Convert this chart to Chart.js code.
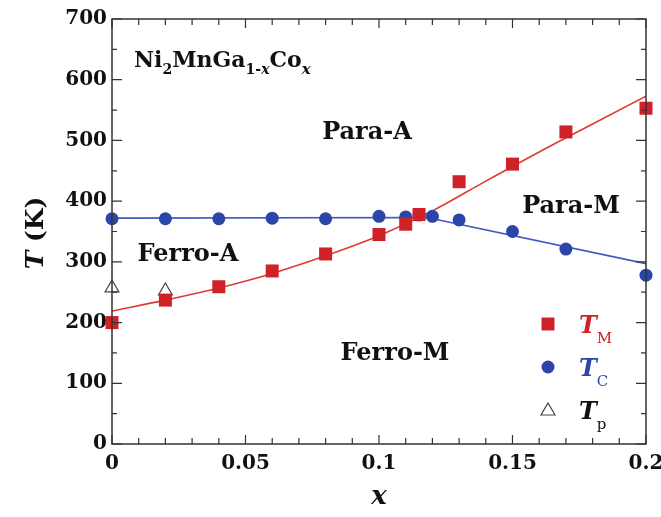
<!DOCTYPE html>
<html>
<head>
<meta charset="utf-8">
<script src="https://cdn.jsdelivr.net/npm/chart.js@4/dist/chart.umd.min.js"></script>
<style>
  html, body { margin: 0; padding: 0; background: #fff; }
  #wrap { width: 661px; height: 517px; }
</style>
</head>
<body>
<div id="wrap"><canvas id="phaseChart"></canvas></div>
<script>
// Ni2MnGa(1-x)Co(x) phase diagram
const xTM = [0, 0.02, 0.04, 0.06, 0.08, 0.10, 0.11, 0.115, 0.13, 0.15, 0.17, 0.20];
const yTM = [200, 237, 259, 285, 313, 345, 362, 378, 432, 461, 514, 553];

const xTC = [0, 0.02, 0.04, 0.06, 0.08, 0.10, 0.11, 0.115, 0.12, 0.13, 0.15, 0.17, 0.20];
const yTC = [371, 371, 371, 372, 371, 375, 374, 377, 375, 369, 350, 321, 278];

const xTp = [0, 0.02];
const yTp = [257, 252];

// guide lines through the data
const xFitM = [0, 0.02, 0.04, 0.06, 0.08, 0.10, 0.12, 0.14, 0.16, 0.18, 0.20];
const yFitM = [219, 237, 257, 281, 310, 343, 384, 433, 481, 527, 573];
const xFitC = [0, 0.118, 0.20];
const yFitC = [372, 373, 297];

const xTicks = [0, 0.05, 0.1, 0.15, 0.2];
const yTicks = [0, 100, 200, 300, 400, 500, 600, 700];

const RED = '#cf2128';
const BLUE = '#2c45a8';
const SERIF = "'DejaVu Serif', serif";

function pts(xs, ys) {
    return xs.map((x, i) => ({ x: x, y: ys[i] }));
}

// draws the frame, inward ticks, region labels and legend
const decorPlugin = {
    id: 'decor',
    afterDraw(chart) {
        const ctx = chart.ctx;
        const a = chart.chartArea;
        const xs = chart.scales.x;
        const ys = chart.scales.y;
        ctx.save();
        ctx.strokeStyle = '#333';
        ctx.lineWidth = 1.5;
        ctx.strokeRect(a.left, a.top, a.right - a.left, a.bottom - a.top);

        ctx.lineWidth = 1.2;
        ctx.beginPath();
        for (let i = 0; i <= 20; i++) {
            const px = xs.getPixelForValue(i / 100);
            const len = i % 5 === 0 ? 9 : 6;
            ctx.moveTo(px, a.bottom); ctx.lineTo(px, a.bottom - len);
            ctx.moveTo(px, a.top); ctx.lineTo(px, a.top + len);
        }
        for (let v = 0; v <= 700; v += 50) {
            const py = ys.getPixelForValue(v);
            const len = v % 100 === 0 ? 10 : 5;
            ctx.moveTo(a.left, py); ctx.lineTo(a.left + len, py);
            ctx.moveTo(a.right, py); ctx.lineTo(a.right - len, py);
        }
        ctx.stroke();

        // y axis title
        ctx.fillStyle = '#111';
        ctx.save();
        ctx.translate(36, 233);
        ctx.rotate(-Math.PI / 2);
        ctx.textBaseline = 'middle';
        ctx.font = 'italic bold 25px ' + SERIF;
        const wT = ctx.measureText('T').width;
        ctx.font = 'bold 25px ' + SERIF;
        const wK = ctx.measureText(' (K)').width;
        let sx = -(wT + wK) / 2;
        ctx.font = 'italic bold 25px ' + SERIF;
        ctx.textAlign = 'left';
        ctx.fillText('T', sx, 0);
        ctx.font = 'bold 25px ' + SERIF;
        ctx.fillText(' (K)', sx + wT, 0);
        ctx.restore();

        // formula with subscripts
        ctx.textBaseline = 'alphabetic';
        ctx.textAlign = 'left';
        const parts = [
            ['Ni', 0, 'bold 22px '], ['2', 7, 'bold 14px '], ['MnGa', 0, 'bold 22px '],
            ['1-', 7, 'bold 14px '], ['x', 7, 'italic bold 14px '], ['Co', 0, 'bold 22px '],
            ['x', 7, 'italic bold 15px ']
        ];
        let cx = 134;
        parts.forEach(p => {
            ctx.font = p[2] + SERIF;
            ctx.fillText(p[0], cx, 67 + p[1]);
            cx += ctx.measureText(p[0]).width;
        });

        // phase regions
        ctx.font = 'bold 24px ' + SERIF;
        ctx.textAlign = 'center';
        ctx.fillText('Para-A', 367, 139);
        ctx.fillText('Para-M', 571, 213);
        ctx.fillText('Ferro-A', 188, 261);
        ctx.fillText('Ferro-M', 395, 360);

        // legend
        const rows = [
            { sym: 'rect', color: RED, sub: 'M', y: 324 },
            { sym: 'circle', color: BLUE, sub: 'C', y: 367 },
            { sym: 'triangle', color: '#111', sub: 'p', y: 410 }
        ];
        rows.forEach(r => {
            ctx.beginPath();
            if (r.sym === 'rect') {
                ctx.fillStyle = RED;
                ctx.fillRect(548 - 6.5, r.y - 6.5, 13, 13);
            } else if (r.sym === 'circle') {
                ctx.fillStyle = BLUE;
                ctx.arc(548, r.y, 6.5, 0, Math.PI * 2);
                ctx.fill();
            } else {
                ctx.strokeStyle = '#444';
                ctx.lineWidth = 1.2;
                ctx.fillStyle = '#fff';
                ctx.moveTo(548, r.y - 7);
                ctx.lineTo(555, r.y + 5);
                ctx.lineTo(541, r.y + 5);
                ctx.closePath();
                ctx.fill();
                ctx.stroke();
            }
            ctx.fillStyle = r.color;
            ctx.textAlign = 'left';
            ctx.font = 'italic bold 24px ' + SERIF;
            ctx.fillText('T', 579, r.y + 9);
            const w = ctx.measureText('T').width;
            ctx.font = '15px ' + SERIF;
            ctx.fillText(r.sub, 579 + w, r.y + 19);
        });
        ctx.restore();
    }
};

function initChart() {
    const ctx = document.getElementById('phaseChart');
    Chart.defaults.font.family = SERIF;
    Chart.defaults.color = '#111';

    new Chart(ctx, {
        type: 'scatter',
        data: {
            datasets: [
                {
                    label: 'TM',
                    data: pts(xTM, yTM),
                    pointStyle: 'rect',
                    pointRadius: 9.2,
                    pointHoverRadius: 9.2,
                    backgroundColor: RED,
                    borderColor: RED,
                    borderWidth: 0,
                    clip: false
                },
                {
                    label: 'TC',
                    data: pts(xTC, yTC),
                    pointStyle: 'circle',
                    pointRadius: 6.5,
                    backgroundColor: BLUE,
                    borderColor: BLUE,
                    borderWidth: 0,
                    clip: false
                },
                {
                    label: 'Tp',
                    data: pts(xTp, yTp),
                    pointStyle: 'triangle',
                    pointRadius: 8,
                    backgroundColor: '#fff',
                    borderColor: '#444',
                    borderWidth: 1.2,
                    clip: false
                },
                {
                    label: 'fitM',
                    data: pts(xFitM, yFitM),
                    showLine: true,
                    pointRadius: 0,
                    borderColor: '#e03a32',
                    borderWidth: 1.6,
                    tension: 0.3,
                    cubicInterpolationMode: 'monotone'
                },
                {
                    label: 'fitC',
                    data: pts(xFitC, yFitC),
                    showLine: true,
                    pointRadius: 0,
                    borderColor: '#4058c0',
                    borderWidth: 1.6,
                    tension: 0
                }
            ]
        },
        options: {
            responsive: true,
            maintainAspectRatio: false,
            animation: false,
            layout: { padding: { left: 0, right: 15, top: 19, bottom: 0 } },
            plugins: {
                legend: { display: false },
                tooltip: { enabled: false }
            },
            scales: {
                x: {
                    type: 'linear',
                    min: 0,
                    max: 0.2,
                    afterBuildTicks: s => { s.ticks = xTicks.map(v => ({ value: v })); },
                    afterFit: s => { s.height = 73; s.paddingLeft = 0; s.paddingRight = 0; },
                    grid: { display: false, drawTicks: false },
                    border: { display: false },
                    ticks: {
                        padding: 8,
                        autoSkip: false,
                        maxRotation: 0,
                        font: { size: 20, weight: 'bold' },
                        callback: v => String(Number(v.toFixed(2)))
                    },
                    title: {
                        display: true,
                        text: 'x',
                        padding: { top: 8 },
                        font: { size: 26, weight: 'bold', style: 'italic' }
                    }
                },
                y: {
                    type: 'linear',
                    min: 0,
                    max: 700,
                    afterBuildTicks: s => { s.ticks = yTicks.map(v => ({ value: v })); },
                    afterFit: s => { s.width = 112; s.paddingTop = 0; s.paddingBottom = 0; },
                    grid: { display: false, drawTicks: false },
                    border: { display: false },
                    ticks: {
                        padding: 5,
                        font: { size: 20, weight: 'bold' }
                    }
                }
            }
        },
        plugins: [decorPlugin]
    });
}

document.addEventListener('DOMContentLoaded', initChart);
</script>
</body>
</html>
